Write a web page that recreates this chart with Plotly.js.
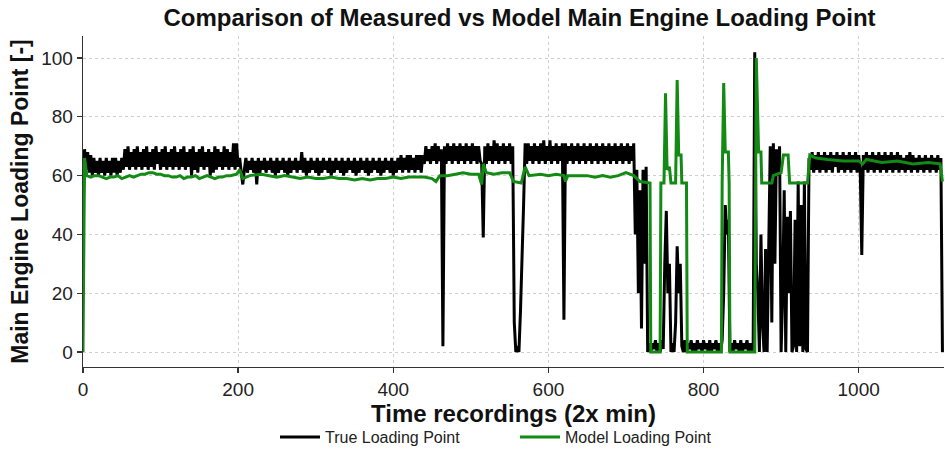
<!DOCTYPE html>
<html>
<head>
<meta charset="utf-8">
<script src="https://cdn.plot.ly/plotly-3.0.1.min.js"></script>
<style>
  html, body { margin: 0; padding: 0; background: #fff; }
  #chart { width: 945px; height: 454px; }
</style>
</head>
<body>
<div id="chart"></div>
<script>
// ---- Data ----
// True loading point, one value every 2 recordings (x = 0, 2, 4, ...)
const trueStep = 2;
const trueY = [
  44,69,62,68,61,67,60,66,61,65,60,66,61,65,60,66,61,65,60,66,        // x 0-38
  61,66,60,65,61,66,62,69,63,70,62,68,63,69,62,70,63,68,62,69,        // x 40-78
  63,70,62,68,63,69,62,70,64,68,62,69,63,70,62,68,63,69,62,70,        // x 80-118
  63,68,62,69,63,70,62,68,63,69,60,70,62,68,61,69,63,70,62,68,        // x 120-158
  63,69,60,68,61,70,62,69,63,68,62,70,63,69,62,68,63,71,62,71,        // x 160-198
  63,66,61,57,62,66,61,65,62,66,61,65,57,66,61,65,62,66,61,65,        // x 200-238
  62,66,61,65,60,66,61,65,62,66,61,65,60,66,61,65,62,66,61,65,        // x 240-278
  62,68,61,66,60,65,61,66,62,65,61,66,60,65,61,66,62,65,61,66,        // x 280-318
  60,65,61,66,62,65,61,66,60,65,61,66,62,65,61,66,60,65,61,66,        // x 320-358
  62,65,61,66,60,65,61,66,62,65,61,66,60,65,61,66,62,65,61,66,        // x 360-398
  60,65,61,66,62,67,61,66,62,67,61,67,62,66,61,67,62,67,61,67,        // x 400-438
  64,70,65,69,64,70,65,71,64,70,65,69,2,70,64,71,65,70,64,71,         // x 440-478
  65,70,64,71,65,70,64,71,65,70,64,71,65,70,64,70,65,64,39,70,        // x 480-518
  64,71,65,70,64,72,65,71,64,70,65,71,64,70,65,71,64,70,10,0,         // x 520-558
  2,0,14,30,50,71,64,71,65,70,64,71,65,70,64,71,65,72,64,70,          // x 560-598
  65,72,64,70,65,71,64,70,65,71,11,71,64,70,65,71,64,70,65,71,        // x 600-638
  64,70,65,71,64,70,65,71,64,70,65,71,64,70,65,71,64,70,65,71,        // x 640-678
  64,70,65,71,64,70,65,71,64,70,65,71,64,70,65,71,40,62,20,55,        // x 680-718
  8,62,30,63,0,3,0,3,1,4,0,3,0,4,1,30,48,20,30,0,                     // x 720-758
  3,0,10,36,20,30,2,0,4,0,3,1,4,0,3,0,4,1,3,0,                        // x 760-798
  4,1,3,0,4,0,3,1,4,0,3,0,4,20,50,40,45,0,3,0,                        // x 800-838
  4,1,3,0,4,0,3,1,4,0,3,0,2,102,30,20,0,40,10,0,                      // x 840-878
  35,0,40,70,10,71,30,69,60,70,0,20,55,0,46,20,48,0,2,45,             // x 880-918
  0,58,2,50,0,58,1,0,66,62,68,61,67,62,68,61,67,62,68,61,             // x 920-958
  67,62,68,61,67,63,68,61,67,62,68,61,67,62,68,61,67,62,68,61,        // x 960-998
  67,62,33,67,62,68,61,67,62,68,61,67,62,68,61,67,62,68,61,67,        // x 1000-1038
  62,68,61,67,62,68,61,67,62,66,61,67,62,68,61,67,62,66,61,67,        // x 1040-1078
  62,66,61,67,62,66,61,67,62,66,61,67,62,66,0                         // x 1080-1108
];
const trueX = trueY.map((_, i) => i * trueStep);

// Model loading point (breakpoints)
const modelX = [0,2,5,10,15,20,25,30,35,40,45,50,55,60,65,70,75,80,85,90,95,100,105,110,115,120,125,130,135,140,145,150,155,160,165,170,175,180,185,190,198,202,206,215,230,240,250,260,270,280,290,300,310,320,330,340,350,360,370,380,390,400,410,420,430,440,450,455,460,470,480,490,500,510,514,516,520,530,540,550,555,565,570,575,590,600,610,620,622,625,640,650,660,670,680,690,700,710,718,728,731,732,744,745,749,751,753,756,758,764,766,768,771,772,778,779,823,824,826,828,832,833,834,866,868,871,874,875,888,890,900,903,909,911,934,937,945,960,980,1000,1005,1010,1030,1050,1070,1090,1105,1108];
const modelY = [0,66,60,59.5,60,60,59.5,59,59.5,59.5,60,59,59.5,60,59.5,60,60.5,60.5,61,61,60.5,60.5,60,60,59.5,59.5,60,59,59.5,59.5,60,59,59.5,60,59.5,59,59.5,59.5,60,60,60.5,62,59,60,60.5,60,59.5,60,59.5,59,59.5,59,59,59.5,59,59,58.5,59,58.5,59,59,59.5,59,59.5,59.5,59.5,59,58,60,60,60.5,61,60.5,60.5,57,64,61,60.5,61,61,58,57.5,63,60,60.5,60,60.5,60,58,60,60,60,59.5,60,59.5,60,61,60,58,57.5,57.5,0,0,57.5,57.5,88,62,63,57.5,57.5,92.5,67,67,57.5,57.5,0,0,57.5,91.5,68,68,57.5,0,0,100,68,68,57.5,57.5,60,61,67,67,57.5,57.5,67,66,65.5,65,65,64,65.5,64.5,65,64,64.5,64,58];

const xTicks = [0, 200, 400, 600, 800, 1000];
const yTicks = [0, 20, 40, 60, 80, 100];

const FONT = '"Liberation Sans", Arial, Helvetica, sans-serif';

const traces = [
  { x: trueX, y: trueY, type: 'scatter', mode: 'lines', name: 'True Loading Point',
    line: { color: '#000000', width: 3 } },
  { x: modelX, y: modelY, type: 'scatter', mode: 'lines', name: 'Model Loading Point',
    line: { color: '#138a13', width: 3 } }
];

const axisCommon = {
  showline: true, linecolor: '#333', linewidth: 1.3,
  ticks: 'outside', ticklen: 5, tickwidth: 1.3, tickcolor: '#333',
  showgrid: true, gridcolor: '#cfcfcf', gridwidth: 1, griddash: 'dot',
  zeroline: false, mirror: false,
  tickfont: { family: FONT, size: 19, color: '#222' }
};

const layout = {
  width: 945, height: 454,
  margin: { l: 83, r: 1, t: 36, b: 86 },
  paper_bgcolor: '#fff', plot_bgcolor: '#fff',
  showlegend: true,
  title: { text: '<b>Comparison of Measured vs Model Main Engine Loading Point</b>',
    font: { family: FONT, size: 24, color: '#111' },
    x: 0.507, xref: 'paper', xanchor: 'center', y: 0.962, yanchor: 'middle' },
  xaxis: Object.assign({}, axisCommon, {
    range: [0, 1110], tickvals: xTicks, ticktext: xTicks.map(String),
    title: { text: '<b>Time recordings (2x min)</b>', font: { family: FONT, size: 24, color: '#111' }, standoff: 4 }
  }),
  yaxis: Object.assign({}, axisCommon, {
    range: [-5.1, 107.5], tickvals: yTicks, ticktext: yTicks.map(String),
    title: { text: '<b>Main Engine Loading Point [-]</b>', font: { family: FONT, size: 23, color: '#111' }, standoff: 6 }
  }),
  legend: { orientation: 'h', x: 0.223, xanchor: 'left', y: -0.21, yanchor: 'middle',
    itemwidth: 40, entrywidth: 185, entrywidthmode: 'pixels',
    font: { family: FONT, size: 16, color: '#222' }, bgcolor: 'rgba(0,0,0,0)' }
};

Plotly.newPlot('chart', traces, layout, { displayModeBar: false, staticPlot: true });
</script>
</body>
</html>
